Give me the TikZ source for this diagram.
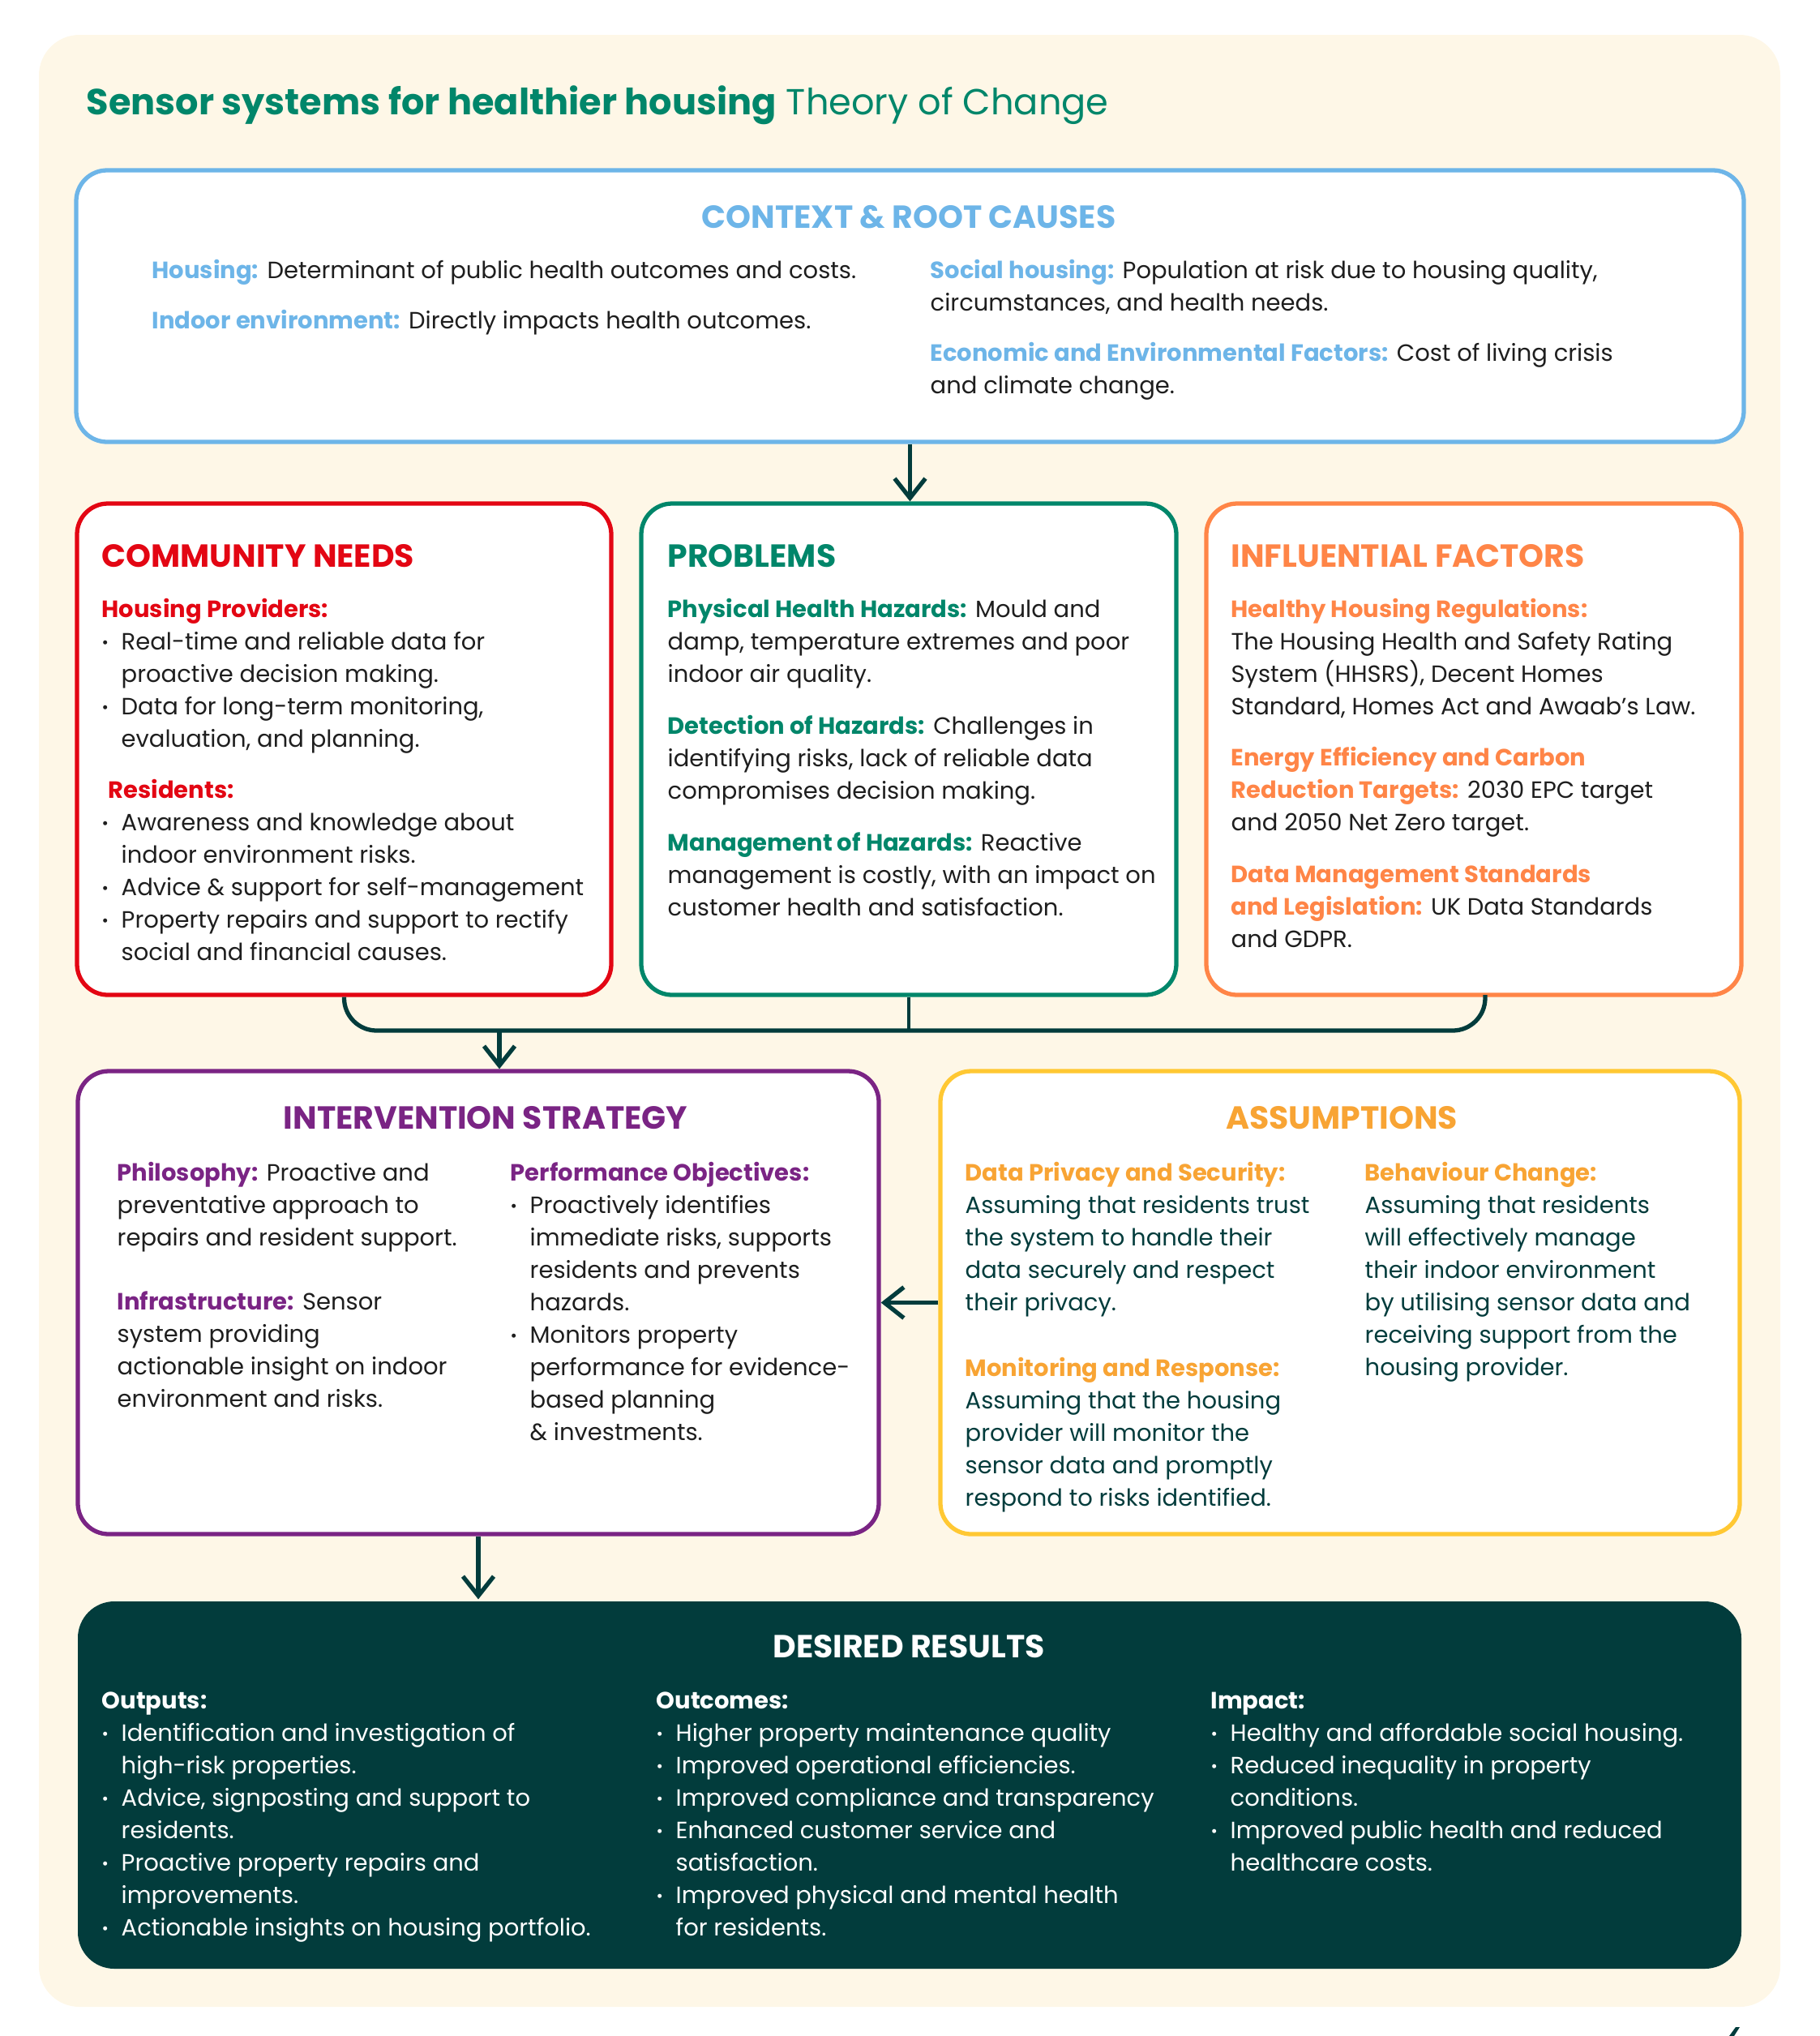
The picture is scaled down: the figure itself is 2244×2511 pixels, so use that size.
\documentclass[tikz,border=0pt]{standalone}
\usepackage{fontspec}
\setmainfont{Poppins}
\usetikzlibrary{arrows.meta,fit}

\definecolor{cream}{HTML}{FEF7E7}
\definecolor{ctxblue}{HTML}{6DB5E8}
\definecolor{needred}{HTML}{E30613}
\definecolor{probgreen}{HTML}{00866A}
\definecolor{inforange}{HTML}{FF8547}
\definecolor{intpurple}{HTML}{7A2484}
\definecolor{asmyellow}{HTML}{FFC833}
\definecolor{asmorange}{HTML}{F8A434}
\definecolor{deepteal}{HTML}{023C3C}
\definecolor{ink}{HTML}{1E1E1E}

\newcommand\bodyfont{\fontsize{8.25}{11.38}\selectfont}
\newcommand\headfont{\bfseries\fontsize{11.2}{13}\selectfont}
\newcommand\lab[2]{\strut{\bfseries\color{#1}#2}}
\newcommand\itm{\makebox[0.24cm][l]{\raisebox{0.15ex}{\scalebox{0.7}{\textbullet}}}}
\newcommand\ind{\hspace*{0.24cm}}

\tikzset{
    box/.style={draw, line width=1.5pt, rounded corners=0.38cm, fill=white, inner sep=0pt},
    head/.style={font=\headfont, inner sep=0pt},
    txt/.style={anchor=north west, inner sep=0pt, align=left, font=\bodyfont, text=ink},
    conn/.style={draw=deepteal, line width=1.5pt},
    arr/.style={conn, -{Straight Barb[length=2.4mm, width=3.8mm]}}
}

\begin{document}
\begin{tikzpicture}[x=0.01cm, y=-0.01cm]

    \useasboundingbox (0,0) rectangle (2244,2511);

    % Cream panel
    \fill[cream, rounded corners=0.5cm] (48,43) rectangle (2196,2475);

    % Title
    \node[anchor=base west, inner sep=0pt, text=probgreen, font=\fontsize{12.7}{15}\selectfont] (title) at (106,141)
        {\textbf{Sensor systems for healthier housing} Theory of Change};

    % Boxes
    \node[box, draw=ctxblue, fit={(94,210) (2151,545)}] (ctx) {};
    \node[box, draw=needred, fit={(95,621) (754,1227)}] (comm) {};
    \node[box, draw=probgreen, fit={(791,621) (1451,1227)}] (prob) {};
    \node[box, draw=inforange, fit={(1488,621) (2148,1227)}] (infl) {};
    \node[box, draw=intpurple, fit={(96,1321) (1084,1892)}] (interv) {};
    \node[box, draw=asmyellow, fit={(1160,1321) (2146,1892)}] (assum) {};
    \node[box, draw=none, fill=deepteal, rounded corners=0.45cm, fit={(96,1975) (2148,2428)}] (desired) {};

    % Context & root causes
    \node[head, text=ctxblue, anchor=base] (ctx-head) at (1121,281) {CONTEXT \& ROOT CAUSES};
    \node[txt] (ctx-house) at (187,315) {\lab{ctxblue}{Housing:} Determinant of public health outcomes and costs.};
    \node[txt] (ctx-indoor) at (187,377) {\lab{ctxblue}{Indoor environment:} Directly impacts health outcomes.};
    \node[txt] (ctx-social) at (1147,315) {\lab{ctxblue}{Social housing:} Population at risk due to housing quality,\\
        circumstances, and health needs.};
    \node[txt] (ctx-econ) at (1147,417) {\lab{ctxblue}{Economic and Environmental Factors:} Cost of living crisis\\
        and climate change.};

    % Community needs
    \node[head, text=needred, anchor=base west] (comm-head) at (125,699) {COMMUNITY NEEDS};
    \node[txt] (comm-prov) at (125,733) {\lab{needred}{Housing Providers:}\\
        \itm Real-time and reliable data for\\
        \ind proactive decision making.\\
        \itm Data for long-term monitoring,\\
        \ind evaluation, and planning.};
    \node[txt] (comm-res) at (125,956) {\lab{needred}{\hspace*{0.08cm}Residents:}\\
        \itm Awareness and knowledge about\\
        \ind indoor environment risks.\\
        \itm Advice \& support for self-management\\
        \itm Property repairs and support to rectify\\
        \ind social and financial causes.};

    % Problems
    \node[head, text=probgreen, anchor=base west] (prob-head) at (823,699) {PROBLEMS};
    \node[txt] (prob-phys) at (823,733) {\lab{probgreen}{Physical Health Hazards:} Mould and\\
        damp, temperature extremes and poor\\
        indoor air quality.};
    \node[txt] (prob-det) at (823,877) {\lab{probgreen}{Detection of Hazards:} Challenges in\\
        identifying risks, lack of reliable data\\
        compromises decision making.};
    \node[txt] (prob-man) at (823,1021) {\lab{probgreen}{Management of Hazards:} Reactive\\
        management is costly, with an impact on\\
        customer health and satisfaction.};

    % Influential factors
    \node[head, text=inforange, anchor=base west] (infl-head) at (1518,699) {INFLUENTIAL FACTORS};
    \node[txt] (infl-reg) at (1518,733) {\lab{inforange}{Healthy Housing Regulations:}\\
        The Housing Health and Safety Rating\\
        System (HHSRS), Decent Homes\\
        Standard, Homes Act and Awaab’s Law.};
    \node[txt] (infl-energy) at (1518,916) {\lab{inforange}{Energy Efficiency and Carbon}\\
        {\bfseries\color{inforange}Reduction Targets:} 2030 EPC target\\
        and 2050 Net Zero target.};
    \node[txt] (infl-data) at (1518,1060) {\lab{inforange}{Data Management Standards}\\
        {\bfseries\color{inforange}and Legislation:} UK Data Standards\\
        and GDPR.};

    % Intervention strategy
    \node[head, text=intpurple, anchor=base] (interv-head) at (599,1392) {INTERVENTION STRATEGY};
    \node[txt] (interv-phil) at (144,1428) {\lab{intpurple}{Philosophy:} Proactive and\\
        preventative approach to\\
        repairs and resident support.};
    \node[txt] (interv-infra) at (144,1587) {\lab{intpurple}{Infrastructure:} Sensor\\
        system providing\\
        actionable insight on indoor\\
        environment and risks.};
    \node[txt] (interv-perf) at (629,1428) {\lab{intpurple}{Performance Objectives:}\\
        \itm Proactively identifies\\
        \ind immediate risks, supports\\
        \ind residents and prevents\\
        \ind hazards.\\
        \itm Monitors property\\
        \ind performance for evidence-\\
        \ind based planning\\
        \ind \& investments.};

    % Assumptions
    \node[head, text=asmorange, anchor=base] (assum-head) at (1655,1392) {ASSUMPTIONS};
    \node[txt, text=deepteal] (assum-priv) at (1190,1428) {\lab{asmorange}{Data Privacy and Security:}\\
        Assuming that residents trust\\
        the system to handle their\\
        data securely and respect\\
        their privacy.};
    \node[txt, text=deepteal] (assum-mon) at (1190,1669) {\lab{asmorange}{Monitoring and Response:}\\
        Assuming that the housing\\
        provider will monitor the\\
        sensor data and promptly\\
        respond to risks identified.};
    \node[txt, text=deepteal] (assum-beh) at (1683,1428) {\lab{asmorange}{Behaviour Change:}\\
        Assuming that residents\\
        will effectively manage\\
        their indoor environment\\
        by utilising sensor data and\\
        receiving support from the\\
        housing provider.};

    % Desired results
    \node[head, text=white, anchor=base] (desired-head) at (1121,2044) {DESIRED RESULTS};
    \node[txt, text=white] (desired-out) at (125,2079) {\lab{white}{Outputs:}\\
        \itm Identification and investigation of\\
        \ind high-risk properties.\\
        \itm Advice, signposting and support to\\
        \ind residents.\\
        \itm Proactive property repairs and\\
        \ind improvements.\\
        \itm Actionable insights on housing portfolio.};
    \node[txt, text=white] (desired-outc) at (809,2079) {\lab{white}{Outcomes:}\\
        \itm Higher property maintenance quality\\
        \itm Improved operational efficiencies.\\
        \itm Improved compliance and transparency\\
        \itm Enhanced customer service and\\
        \ind satisfaction.\\
        \itm Improved physical and mental health\\
        \ind for residents.};
    \node[txt, text=white] (desired-imp) at (1493,2079) {\lab{white}{Impact:}\\
        \itm Healthy and affordable social housing.\\
        \itm Reduced inequality in property\\
        \ind conditions.\\
        \itm Improved public health and reduced\\
        \ind healthcare costs.};

    % Connectors
    \draw[arr] (ctx.south) -- (ctx.south |- prob.north);

    % Bracket joining the three boxes
    \coordinate (barmid) at (prob.south |- 0,1271);
    \coordinate (brR) at (1832,1227);
    \draw[conn, rounded corners=0.4cm] (comm.south) |- (barmid) -| (brR);
    \draw[conn, line width=1.1pt] (prob.south) -- (barmid);
    \coordinate (drop) at (616,1271);
    \draw[arr] (drop) -- (drop |- interv.north);

    \draw[arr] (assum.west) -- (interv.east);
    \draw[arr] (interv.south) -- (interv.south |- desired.north);

    % Corner mark
    \fill[deepteal] (2133,2511) -- (2141,2500) -- (2146,2500) -- (2139,2511) -- cycle;
\end{tikzpicture}
\end{document}
